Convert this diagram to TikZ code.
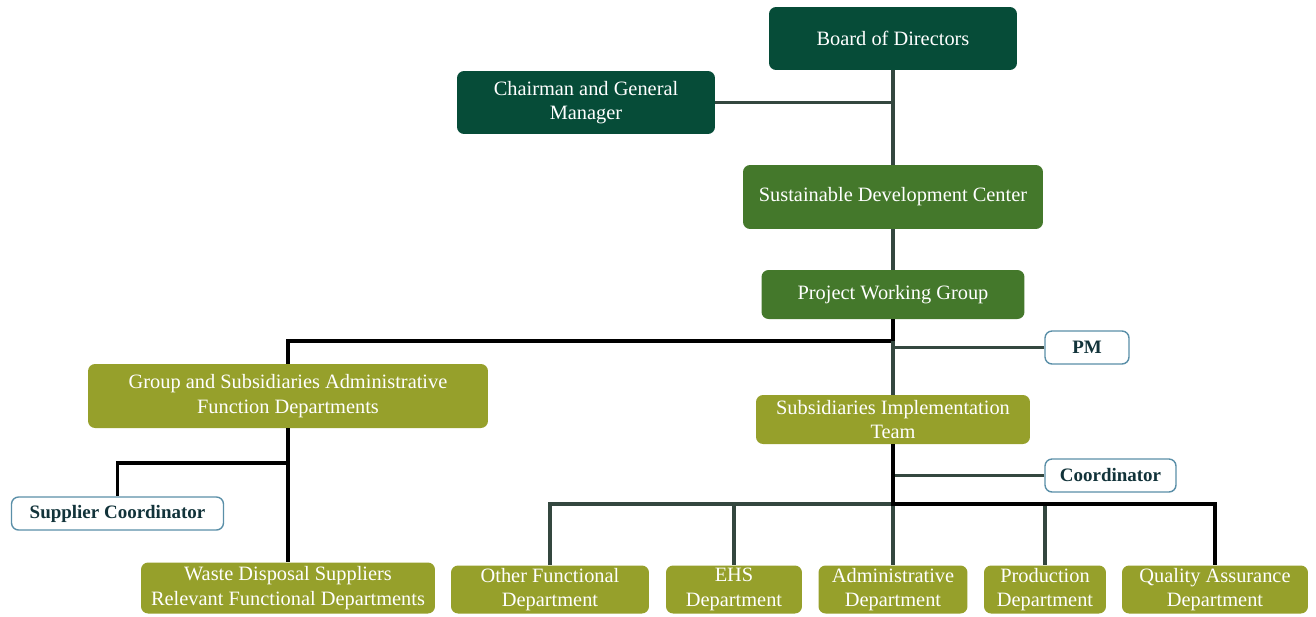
\documentclass[tikz,border=0pt]{standalone}
\usepackage{fontspec}
\setmainfont{Liberation Serif}
\definecolor{darkgrn}{HTML}{064C38}
\definecolor{midgrn}{HTML}{44782B}
\definecolor{olive}{HTML}{96A02B}
\definecolor{roleedge}{HTML}{5A8FA8}
\definecolor{roletext}{HTML}{12333A}
\definecolor{linkgrey}{HTML}{34473F}

\begin{document}
\begin{tikzpicture}[x=0.02cm,y=-0.02cm,
unit/.style={rounded corners=4pt,inner sep=0pt,align=center,text=white,
  font={\fontsize{11.6}{14}\selectfont}},
topbox/.style={unit,fill=darkgrn},
centrebox/.style={unit,fill=midgrn},
deptbox/.style={unit,fill=olive},
rolebox/.style={rounded corners=4pt,inner sep=0pt,align=center,fill=white,
  draw=roleedge,line width=0.8pt,text=roletext,minimum height=0.66cm,
  font={\fontsize{10.8}{13}\selectfont\bfseries}},
gline/.style={draw=linkgrey,line width=1.9pt},
bline/.style={draw=black,line width=1.9pt}
]
\useasboundingbox (0,0) rectangle (1316,616);

\node[topbox,minimum width=4.96cm,minimum height=1.26cm] (board) at (893,38.5) {Board of Directors};
\node[topbox,minimum width=5.16cm,minimum height=1.26cm] (chair) at (586,102.5) {Chairman and General\\Manager};
\node[centrebox,minimum width=6cm,minimum height=1.28cm] (sdc) at (893,197) {Sustainable Development Center};
\node[centrebox,minimum width=5.26cm,minimum height=0.98cm] (pwg) at (893,294.5) {Project Working Group};
\node[rolebox,minimum width=1.68cm] (pm) at (1087,347.5) {PM};
\node[deptbox,minimum width=8cm,minimum height=1.28cm] (group) at (288,396) {Group and Subsidiaries Administrative\\Function Departments};
\node[deptbox,minimum width=5.48cm,minimum height=0.98cm] (sit) at (893,419.5) {Subsidiaries Implementation\\Team};
\node[rolebox,minimum width=2.62cm] (coord) at (1110.5,475.5) {Coordinator};
\node[rolebox,minimum width=4.24cm] (supcoord) at (117.5,513.5) {Supplier Coordinator};
\node[deptbox,minimum width=5.88cm,minimum height=1.02cm] (waste) at (288,588) {Waste Disposal Suppliers\\Relevant Functional Departments};
\node[deptbox,minimum width=3.96cm,minimum height=0.96cm] (other) at (550,589.5) {Other Functional\\Department};
\node[deptbox,minimum width=2.72cm,minimum height=0.96cm] (ehs) at (734,589.5) {EHS\\Department};
\node[deptbox,minimum width=2.98cm,minimum height=0.96cm] (admin) at (893,589.5) {Administrative\\Department};
\node[deptbox,minimum width=2.44cm,minimum height=0.96cm] (prod) at (1045,589.5) {Production\\Department};
\node[deptbox,minimum width=3.72cm,minimum height=0.96cm] (qa) at (1215,589.5) {Quality Assurance\\Department};

\coordinate (split) at (893,341);
\coordinate (supsplit) at (288,463);
\coordinate (bus) at (893,504);

\draw[gline] (board) -- (sdc);
\draw[gline] (chair.east) -- (chair.east -| board);
\draw[gline] (sdc) -- (pwg);
\draw[bline] (pwg) -- (split) -| (group);
\draw[gline] (split) -- (sit);
\draw[gline] (pm.west) -- (pm.west -| sit);
\draw[bline] (group) -- (waste);
\draw[bline] (supsplit) -| (supcoord);
\draw[gline] (coord.west) -- (coord.west -| sit);
\draw[gline] (bus) -| (other);
\draw[gline] (bus) -- (admin);
\draw[gline] (ehs |- bus) -- (ehs);
\draw[gline] (prod |- bus) -- (prod);
\draw[bline] (sit) -- (bus) -| (qa);
\end{tikzpicture}
\end{document}
